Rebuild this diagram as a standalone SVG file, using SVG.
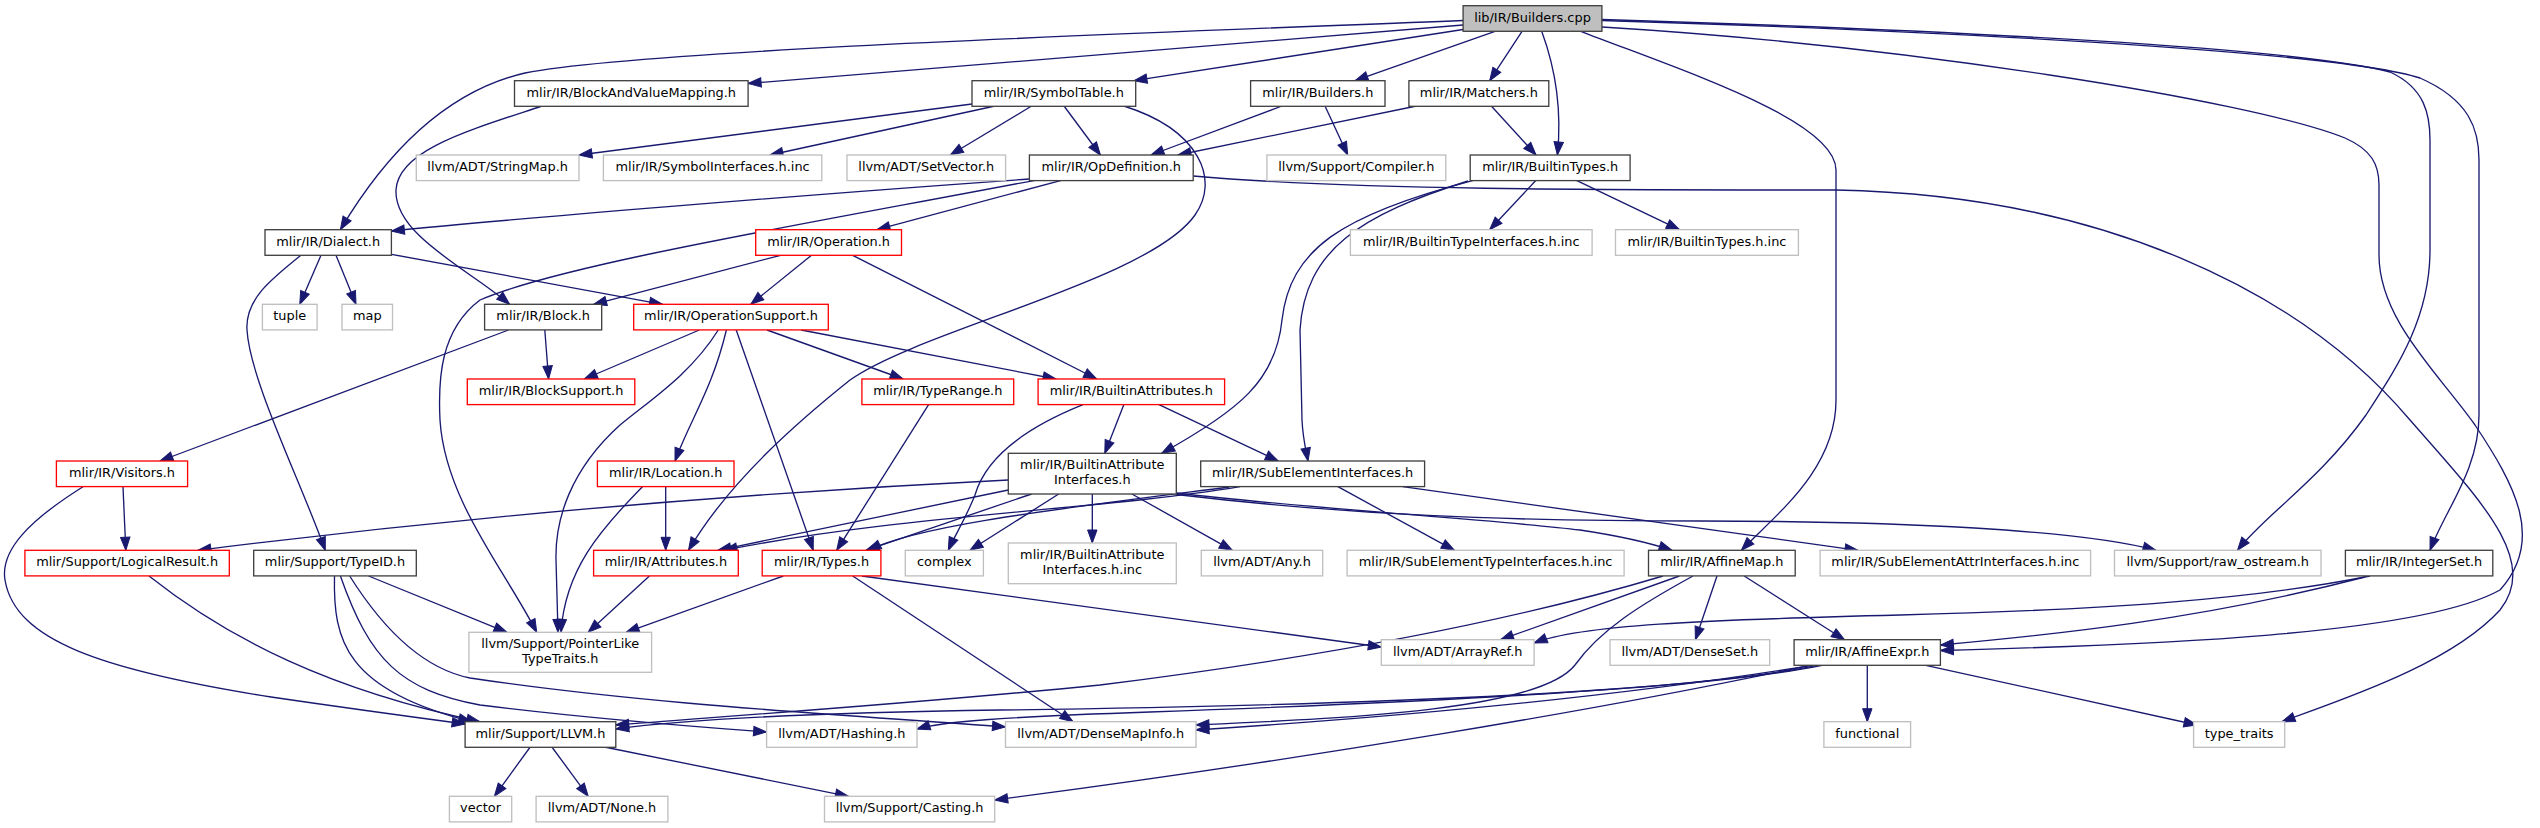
<svg xmlns="http://www.w3.org/2000/svg" width="2540" height="828" viewBox="0 0 2540 828">
<style>
.e{fill:none;stroke:#191970;stroke-width:1.33;marker-end:url(#ah)}
rect{stroke-width:1.33}
.n rect{fill:#fff;stroke:#404040}
.g rect{fill:#fff;stroke:#bfbfbf}
.r rect{fill:#fff;stroke:#ff0000}
.root rect{fill:#bfbfbf;stroke:#404040}
text{font-family:"DejaVu Sans","Liberation Sans",sans-serif;font-size:12.9px;fill:#000;text-anchor:middle}
</style>
<defs>
<marker id="ah" markerUnits="userSpaceOnUse" markerWidth="14" markerHeight="10" refX="13" refY="4.7" orient="auto" overflow="visible">
<path d="M0,0 L13,4.7 L0,9.4 z" fill="#191970" stroke="#191970" stroke-width="1"/>
</marker>
</defs>
<rect width="2540" height="828" fill="#fff"/>
<g id="edges">
<path class="e" d="M1463,25 L748.1,83.5"/>
<path class="e" d="M1463,20.5 C1150,33 640,50 525,73 C430,95 370,180 340.4,229.7"/>
<path class="e" d="M1463,29.5 L1134,80.7"/>
<path class="e" d="M1495,31.3 L1355,80.7"/>
<path class="e" d="M1522,31.3 L1489.7,80.7"/>
<path class="e" d="M1541.7,31.3 C1556,70 1562,110 1557.4,155"/>
<path class="e" d="M1580.8,31.3 C1680,70 1836,120 1836,170 L1836,400 C1836,470 1775,515 1741.5,550.3"/>
<path class="e" d="M1601.9,19.5 C1950,30 2300,48 2390,72 C2425,88 2430,115 2430,140 L2430,250 C2430,320 2395,370 2366,415 C2320,480 2265,515 2237.5,550.3"/>
<path class="e" d="M1601.9,20.5 C1950,31 2340,52 2420,78 C2470,100 2479,130 2479,160 L2479,415 C2479,470 2445,510 2430,550.3"/>
<path class="e" d="M1601.9,27 C1900,45 2250,100 2345,138 C2372,150 2379,165 2379,185 L2379,255 C2379,320 2440,375 2475,425 C2515,485 2545,540 2500,590 C2420,635 2150,645 1940.4,650.5"/>
<path class="e" d="M542,106 C470,130 398,150 396,190 C394,235 470,270 509.6,304.3"/>
<path class="e" d="M972,104 L579,155"/>
<path class="e" d="M995,106 L770,155"/>
<path class="e" d="M1031.6,106 L950.3,155"/>
<path class="e" d="M1064,106 L1100.4,155"/>
<path class="e" d="M1123.8,106 C1200,130 1220,180 1195,215 C1150,280 920,330 850,380 C800,420 730,480 688.5,550.3"/>
<path class="e" d="M1282,106 L1151,155"/>
<path class="e" d="M1325,106 L1347.7,155"/>
<path class="e" d="M1416.5,106 L1178,155"/>
<path class="e" d="M1491.3,106 L1536,155"/>
<path class="e" d="M1029.4,179 C800,195 500,220 391.4,231"/>
<path class="e" d="M1035,180.3 C800,225 560,265 480,300 C440,330 438,380 440,420 C445,500 505,570 536.7,632.3"/>
<path class="e" d="M1061.4,180.3 L877,229.7"/>
<path class="e" d="M1193.2,176 C1350,190 1600,190 1836,190 C2100,195 2300,290 2410,420 C2480,500 2540,560 2500,610 C2450,665 2340,700 2282,721.7"/>
<path class="e" d="M1536,180.3 L1489.7,229.7"/>
<path class="e" d="M1576.4,180.3 L1679.4,229.7"/>
<path class="e" d="M1473.4,180.3 C1340,215 1290,250 1282,320 C1276,380 1240,410 1161.7,453.3"/>
<path class="e" d="M1468,181 C1360,215 1305,250 1300,330 L1302,420 C1303,440 1306,450 1308,461"/>
<path class="e" d="M321,255.3 L299.8,304.3"/>
<path class="e" d="M336,255.3 L356,304.3"/>
<path class="e" d="M391.4,254.3 L662.5,304.3"/>
<path class="e" d="M300.9,255.3 C270,280 245,300 247,330 C250,380 300,480 325.3,550.3"/>
<path class="e" d="M780.6,255.3 L593.6,304.3"/>
<path class="e" d="M811.5,255.3 L750.8,304.3"/>
<path class="e" d="M852.7,255.3 L1096.7,379"/>
<path class="e" d="M544.8,330 L548.6,379"/>
<path class="e" d="M508.5,330 L160,461"/>
<path class="e" d="M699.3,330 L584.4,379"/>
<path class="e" d="M718.3,330 C690,375 650,400 620,425 C570,470 555,520 556,560 L558,632.3"/>
<path class="e" d="M726.4,330 C712,390 690,420 675,461"/>
<path class="e" d="M736.2,330 L813.2,550.3"/>
<path class="e" d="M767,330 L903.1,379"/>
<path class="e" d="M801.2,330 L1056,379"/>
<path class="e" d="M928.6,404.7 L836.7,550.3"/>
<path class="e" d="M1083,404.7 C1020,430 985,460 975,495 C965,520 955,535 948.3,550.3"/>
<path class="e" d="M1123.8,404.7 L1104.8,453.3"/>
<path class="e" d="M1159,404.7 L1278.3,461"/>
<path class="e" d="M1008.3,480 Q600,500 197.9,550.3"/>
<path class="e" d="M1008.3,490 L718,550.3"/>
<path class="e" d="M1031.6,494 L866,550.3"/>
<path class="e" d="M1058.7,494 L970,550.3"/>
<path class="e" d="M1092.3,494 L1092.3,543"/>
<path class="e" d="M1131.9,494 L1232.3,550.3"/>
<path class="e" d="M1176.3,493 C1300,508 1500,520 1580,530 C1620,536 1650,543 1672,550.3"/>
<path class="e" d="M1176.3,494.5 C1350,515 1500,521 1700,521 C1900,521 2080,530 2156,550.3"/>
<path class="e" d="M1240,486.7 C1100,510 900,515 724,550.3"/>
<path class="e" d="M1229.5,487 C1050,510 920,525 868,550.3"/>
<path class="e" d="M1337.9,486.7 L1454.4,550.3"/>
<path class="e" d="M1402.6,486.7 L1858,550.3"/>
<path class="e" d="M123,486.7 L125.8,550.3"/>
<path class="e" d="M83,486.7 C30,520 0,550 5,580 C15,640 100,670 271,697 C360,710 420,718 465.1,724"/>
<path class="e" d="M665.7,486.7 L665.7,550.3"/>
<path class="e" d="M642.4,486.7 C600,530 565,570 561,632.3"/>
<path class="e" d="M149,576 C230,640 330,690 479.8,721.7"/>
<path class="e" d="M368.6,576 L506.9,632.3"/>
<path class="e" d="M334.5,576 C333,640 345,690 471.6,721.7"/>
<path class="e" d="M340.4,576 C370,660 400,690 480,705 C600,720 700,727 766.6,732"/>
<path class="e" d="M349.7,576 C390,640 430,670 470,678 C650,705 850,715 1005.5,727"/>
<path class="e" d="M649.4,576 L588.2,632.3"/>
<path class="e" d="M783.3,576 L626.1,632.3"/>
<path class="e" d="M862,576 L1381.3,647"/>
<path class="e" d="M852.7,576 L1073,721.7"/>
<path class="e" d="M1663,576 C1500,625 1300,660 1100,685 C900,705 700,718 615.8,725"/>
<path class="e" d="M1679.4,576 L1500.5,639.7"/>
<path class="e" d="M1693,576 C1640,605 1600,630 1575,665 C1540,710 1350,718 1196,725"/>
<path class="e" d="M1717,576 L1695.4,639.7"/>
<path class="e" d="M1744.2,576 L1844.5,639.7"/>
<path class="e" d="M2370,576 C2250,600 2100,610 1900,615 C1700,620 1580,625 1534.1,643"/>
<path class="e" d="M2364.9,577 C2200,620 2050,635 1940.4,645"/>
<path class="e" d="M1867.3,665.3 L1867.3,721.7"/>
<path class="e" d="M1925.8,665.3 L2197,725"/>
<path class="e" d="M1822,665.3 C1700,690 1400,705 1000,710 C800,713 680,720 615.8,729"/>
<path class="e" d="M1817,665.3 C1700,690 1400,703 1150,712 C1000,717 940,722 917,729"/>
<path class="e" d="M1812,665.3 C1600,700 1350,720 1196,730"/>
<path class="e" d="M1810,665.3 C1600,710 1300,760 994.7,800"/>
<path class="e" d="M530.2,747 L494.4,796.3"/>
<path class="e" d="M551.9,747 L588.2,796.3"/>
<path class="e" d="M604.4,747 L848.4,796.3"/>
</g>
<g id="n_root" class="root"><rect x="1463.1" y="5.7" width="138.8" height="25.6"/><text x="1532.5" y="21.7">lib/IR/Builders.cpp</text></g>
<g id="n_bavm" class="n"><rect x="514.5" y="80.7" width="233.6" height="25.6"/><text x="631.3" y="96.7">mlir/IR/BlockAndValueMapping.h</text></g>
<g id="n_symboltable" class="n"><rect x="972" y="80.7" width="163.7" height="25.6"/><text x="1053.85" y="96.7">mlir/IR/SymbolTable.h</text></g>
<g id="n_buildersh" class="n"><rect x="1250.6" y="80.7" width="134.4" height="25.6"/><text x="1317.8" y="96.7">mlir/IR/Builders.h</text></g>
<g id="n_matchers" class="n"><rect x="1408.9" y="80.7" width="139.9" height="25.6"/><text x="1478.85" y="96.7">mlir/IR/Matchers.h</text></g>
<g id="n_stringmap" class="g"><rect x="416.3" y="155" width="162.7" height="25.6"/><text x="497.65" y="171">llvm/ADT/StringMap.h</text></g>
<g id="n_symifinc" class="g"><rect x="603.4" y="155" width="218.4" height="25.6"/><text x="712.6" y="171">mlir/IR/SymbolInterfaces.h.inc</text></g>
<g id="n_setvector" class="g"><rect x="847" y="155" width="158.6" height="25.6"/><text x="926.3" y="171">llvm/ADT/SetVector.h</text></g>
<g id="n_opdef" class="n"><rect x="1029.4" y="155" width="163.8" height="25.6"/><text x="1111.3" y="171">mlir/IR/OpDefinition.h</text></g>
<g id="n_compiler" class="g"><rect x="1266.9" y="155" width="178.9" height="25.6"/><text x="1356.35" y="171">llvm/Support/Compiler.h</text></g>
<g id="n_builtintypes" class="n"><rect x="1470.2" y="155" width="159.9" height="25.6"/><text x="1550.15" y="171">mlir/IR/BuiltinTypes.h</text></g>
<g id="n_dialect" class="n"><rect x="265" y="229.7" width="126.4" height="25.6"/><text x="328.2" y="245.7">mlir/IR/Dialect.h</text></g>
<g id="n_operation" class="r"><rect x="755.7" y="229.7" width="145.8" height="25.6"/><text x="828.6" y="245.7">mlir/IR/Operation.h</text></g>
<g id="n_btiinc" class="g"><rect x="1350.4" y="229.7" width="241.7" height="25.6"/><text x="1471.25" y="245.7">mlir/IR/BuiltinTypeInterfaces.h.inc</text></g>
<g id="n_btinc" class="g"><rect x="1615.5" y="229.7" width="182.9" height="25.6"/><text x="1706.95" y="245.7">mlir/IR/BuiltinTypes.h.inc</text></g>
<g id="n_tuple" class="g"><rect x="262.4" y="304.3" width="54.7" height="25.6"/><text x="289.75" y="320.3">tuple</text></g>
<g id="n_map" class="g"><rect x="342" y="304.3" width="50.5" height="25.6"/><text x="367.25" y="320.3">map</text></g>
<g id="n_block" class="n"><rect x="484.6" y="304.3" width="117.1" height="25.6"/><text x="543.15" y="320.3">mlir/IR/Block.h</text></g>
<g id="n_opsupport" class="r"><rect x="633.7" y="304.3" width="194.6" height="25.6"/><text x="731" y="320.3">mlir/IR/OperationSupport.h</text></g>
<g id="n_blocksupport" class="r"><rect x="467.3" y="379" width="167.5" height="25.6"/><text x="551.05" y="395">mlir/IR/BlockSupport.h</text></g>
<g id="n_typerange" class="r"><rect x="861.9" y="379" width="151.8" height="25.6"/><text x="937.8" y="395">mlir/IR/TypeRange.h</text></g>
<g id="n_battrs" class="r"><rect x="1038.1" y="379" width="186.5" height="25.6"/><text x="1131.35" y="395">mlir/IR/BuiltinAttributes.h</text></g>
<g id="n_visitors" class="r"><rect x="56.4" y="461" width="131.2" height="25.6"/><text x="122" y="477">mlir/IR/Visitors.h</text></g>
<g id="n_location" class="r"><rect x="597.4" y="461" width="136.6" height="25.6"/><text x="665.7" y="477">mlir/IR/Location.h</text></g>
<g id="n_bai" class="n"><rect x="1008.3" y="453.3" width="168" height="40.7"/><text x="1092.3" y="469.3">mlir/IR/BuiltinAttribute</text><text x="1092.3" y="484">Interfaces.h</text></g>
<g id="n_sei" class="n"><rect x="1200.7" y="461" width="223.9" height="25.6"/><text x="1312.65" y="477">mlir/IR/SubElementInterfaces.h</text></g>
<g id="n_logicalresult" class="r"><rect x="24.9" y="550.3" width="204.4" height="25.6"/><text x="127.1" y="566.3">mlir/Support/LogicalResult.h</text></g>
<g id="n_typeid" class="n"><rect x="253.7" y="550.3" width="162.6" height="25.6"/><text x="335" y="566.3">mlir/Support/TypeID.h</text></g>
<g id="n_attributes" class="r"><rect x="593.6" y="550.3" width="144.7" height="25.6"/><text x="665.95" y="566.3">mlir/IR/Attributes.h</text></g>
<g id="n_types" class="r"><rect x="762.2" y="550.3" width="118.7" height="25.6"/><text x="821.55" y="566.3">mlir/IR/Types.h</text></g>
<g id="n_complex" class="g"><rect x="905.3" y="550.3" width="78.1" height="25.6"/><text x="944.35" y="566.3">complex</text></g>
<g id="n_baiinc" class="g"><rect x="1008.3" y="543" width="168" height="40.7"/><text x="1092.3" y="559">mlir/IR/BuiltinAttribute</text><text x="1092.3" y="573.7">Interfaces.h.inc</text></g>
<g id="n_any" class="g"><rect x="1201.3" y="550.3" width="121.4" height="25.6"/><text x="1262" y="566.3">llvm/ADT/Any.h</text></g>
<g id="n_setiinc" class="g"><rect x="1347.1" y="550.3" width="277" height="25.6"/><text x="1485.6" y="566.3">mlir/IR/SubElementTypeInterfaces.h.inc</text></g>
<g id="n_affinemap" class="n"><rect x="1648.5" y="550.3" width="146.7" height="25.6"/><text x="1721.85" y="566.3">mlir/IR/AffineMap.h</text></g>
<g id="n_seaiinc" class="g"><rect x="1820.1" y="550.3" width="270.5" height="25.6"/><text x="1955.35" y="566.3">mlir/IR/SubElementAttrInterfaces.h.inc</text></g>
<g id="n_rawostream" class="g"><rect x="2114.5" y="550.3" width="206.5" height="25.6"/><text x="2217.75" y="566.3">llvm/Support/raw_ostream.h</text></g>
<g id="n_integerset" class="n"><rect x="2345.4" y="550.3" width="147.4" height="25.6"/><text x="2419.1" y="566.3">mlir/IR/IntegerSet.h</text></g>
<g id="n_pointerlike" class="g"><rect x="468.9" y="632.3" width="182.7" height="40"/><text x="560.25" y="648.3">llvm/Support/PointerLike</text><text x="560.25" y="663">TypeTraits.h</text></g>
<g id="n_arrayref" class="g"><rect x="1381.3" y="639.7" width="152.8" height="25.6"/><text x="1457.7" y="655.7">llvm/ADT/ArrayRef.h</text></g>
<g id="n_denseset" class="g"><rect x="1610" y="639.7" width="159.7" height="25.6"/><text x="1689.85" y="655.7">llvm/ADT/DenseSet.h</text></g>
<g id="n_affineexpr" class="n"><rect x="1794.1" y="639.7" width="146.3" height="25.6"/><text x="1867.25" y="655.7">mlir/IR/AffineExpr.h</text></g>
<g id="n_llvm" class="n"><rect x="465.1" y="721.7" width="150.7" height="25.6"/><text x="540.45" y="737.7">mlir/Support/LLVM.h</text></g>
<g id="n_hashing" class="g"><rect x="766.6" y="721.7" width="150.4" height="25.6"/><text x="841.8" y="737.7">llvm/ADT/Hashing.h</text></g>
<g id="n_densemapinfo" class="g"><rect x="1005.5" y="721.7" width="190.5" height="25.6"/><text x="1100.75" y="737.7">llvm/ADT/DenseMapInfo.h</text></g>
<g id="n_functional" class="g"><rect x="1823.9" y="721.7" width="86.7" height="25.6"/><text x="1867.25" y="737.7">functional</text></g>
<g id="n_typetraits" class="g"><rect x="2193.6" y="721.7" width="91.1" height="25.6"/><text x="2239.15" y="737.7">type_traits</text></g>
<g id="n_vector" class="g"><rect x="449.4" y="796.3" width="62.3" height="25.6"/><text x="480.55" y="812.3">vector</text></g>
<g id="n_none" class="g"><rect x="536.1" y="796.3" width="131.8" height="25.6"/><text x="602" y="812.3">llvm/ADT/None.h</text></g>
<g id="n_casting" class="g"><rect x="824.5" y="796.3" width="170.2" height="25.6"/><text x="909.6" y="812.3">llvm/Support/Casting.h</text></g>
</svg>
